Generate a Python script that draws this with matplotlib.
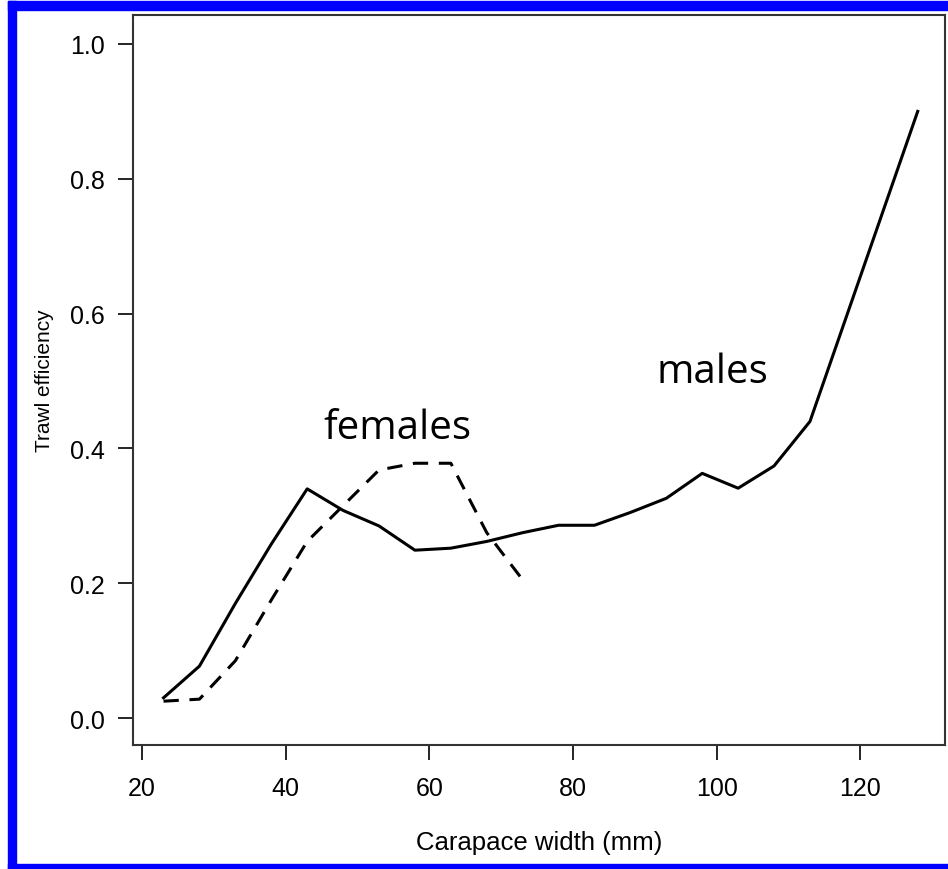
import matplotlib
matplotlib.use("Agg")
import matplotlib.pyplot as plt
from matplotlib.patches import Rectangle

# carapace width (mm) and trawl efficiency
male_cw = [23, 28, 33, 38, 43, 48, 53, 58, 63, 68, 73, 78, 83, 88, 93, 98, 103, 108, 113, 128]
male_eff = [0.03, 0.077, 0.17, 0.258, 0.34, 0.308, 0.285, 0.249, 0.252, 0.262, 0.275,
            0.286, 0.286, 0.305, 0.326, 0.363, 0.341, 0.374, 0.44, 0.9]

female_cw = [23, 28, 33, 38, 43, 48, 53, 58, 63, 68, 73]
female_eff = [0.025, 0.028, 0.085, 0.175, 0.262, 0.315, 0.368, 0.378, 0.378, 0.275, 0.205]

x_ticks = [20, 40, 60, 80, 100, 120]
y_ticks = [0.0, 0.2, 0.4, 0.6, 0.8, 1.0]

plt.rcParams['font.family'] = ['Liberation Sans', 'DejaVu Sans']

fig = plt.figure(figsize=(9.48, 8.70), dpi=100)
ax = fig.add_axes([133 / 948, (870 - 746) / 870, (945 - 133) / 948, (746 - 16) / 870])

ax.plot(male_cw, male_eff, color='black', linewidth=2.2)
ax.plot(female_cw, female_eff, color='black', linewidth=2.2, linestyle=(0, (5, 3.5)))

ax.set_xlim(18.75, 131.8)
ax.set_ylim(-0.04, 1.043)
ax.set_xticks(x_ticks)
ax.set_xticklabels([str(v) for v in x_ticks])
ax.set_yticks(y_ticks)
ax.set_yticklabels(["%.1f" % v for v in y_ticks])
ax.tick_params(direction='out', length=11, width=1.2, labelsize=18, pad=9)
ax.tick_params(axis='x', pad=11)
for s in ax.spines.values():
    s.set_linewidth(1.5)
    s.set_color('#333333')

ax.set_xlabel('Carapace width (mm)', fontsize=18.5, labelpad=22)
ax.set_ylabel('Trawl efficiency', fontsize=15, labelpad=12)

ax.text(45.2, 0.43, 'females', fontsize=29, family=['Open Sans', 'DejaVu Sans'], va='center', ha='left')
ax.text(91.7, 0.513, 'males', fontsize=29, family=['Open Sans', 'DejaVu Sans'], va='center', ha='left')

# blue frame around the figure
blue = '#0000ff'
W, H = 948.0, 870.0
for (x0, y0, w, h) in [(8, 2, 940, 9), (8, 2, 8, 868), (8, 865, 940, 5)]:
    fig.patches.append(Rectangle((x0 / W, 1 - (y0 + h) / H), w / W, h / H,
                                 transform=fig.transFigure, color=blue, zorder=10))

fig.savefig('out.png', dpi=100)
